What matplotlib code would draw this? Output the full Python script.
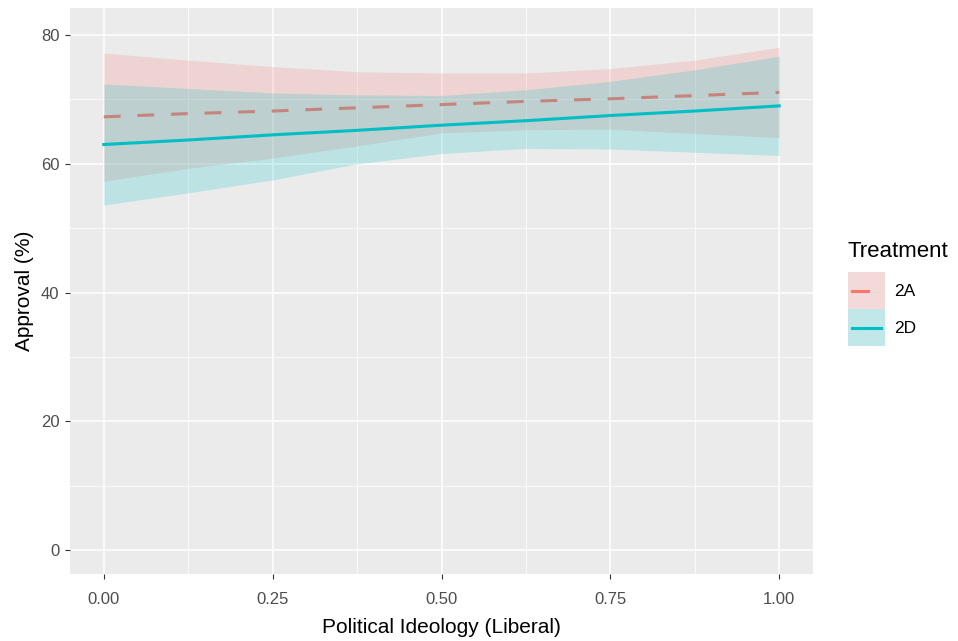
import numpy as np
import matplotlib
matplotlib.use('Agg')
import matplotlib.pyplot as plt
from matplotlib.patches import Rectangle
from matplotlib.lines import Line2D
from matplotlib.legend_handler import HandlerBase

plt.rcParams['font.family'] = ['Liberation Sans', 'DejaVu Sans']

# predicted approval by ideology, with confidence band
ideology = [0.0, 0.125, 0.25, 0.375, 0.5, 0.625, 0.75, 0.875, 1.0]
fit_2a = [67.3, 67.8, 68.2, 68.7, 69.2, 69.7, 70.1, 70.6, 71.1]
lo_2a = [57.3, 59.3, 60.9, 62.8, 64.8, 65.3, 65.4, 64.7, 64.1]
hi_2a = [77.2, 76.1, 75.1, 74.3, 74.1, 74.1, 74.8, 76.1, 78.1]
fit_2d = [63.0, 63.7, 64.5, 65.2, 66.0, 66.7, 67.5, 68.2, 69.0]
lo_2d = [53.6, 55.5, 57.5, 60.0, 61.6, 62.4, 62.3, 61.8, 61.3]
hi_2d = [72.4, 71.7, 71.0, 70.7, 70.6, 71.5, 72.8, 74.6, 76.7]

treatments = ['2A', '2D']
red = '#F8766D'
cyan = '#00BFC4'

W, H = 958, 641
fig = plt.figure(figsize=(W / 100, H / 100), dpi=100)
ax = fig.add_axes([70 / W, 67 / H, 743 / W, 566 / H])
ax.set_facecolor('#EBEBEB')

ax.fill_between(ideology, lo_2a, hi_2a, color=red, alpha=0.2, lw=0, zorder=2)
ax.plot(ideology, fit_2a, color=red, lw=2.2, dashes=(5.5, 5.5), zorder=3)
ax.fill_between(ideology, lo_2d, hi_2d, color=cyan, alpha=0.2, lw=0, zorder=4)
ax.plot(ideology, fit_2d, color=cyan, lw=2.2, zorder=5)

ax.set_xlim(-0.05, 1.05)
ax.set_ylim(-3.7, 84.2)
ax.set_xticks([0, 0.25, 0.5, 0.75, 1.0])
ax.set_xticklabels(['0.00', '0.25', '0.50', '0.75', '1.00'])
ax.set_yticks([0, 20, 40, 60, 80])
ax.set_xticks([0.125, 0.375, 0.625, 0.875], minor=True)
ax.set_yticks([10, 30, 50, 70], minor=True)
ax.grid(which='major', color='white', lw=1.1, zorder=1)
ax.grid(which='minor', color='white', lw=0.55, zorder=1)
ax.set_axisbelow(True)
for s in ax.spines.values():
    s.set_visible(False)
ax.tick_params(which='major', length=3.5, width=0.8, color='#333333',
               labelcolor='#4D4D4D', labelsize=12)
ax.tick_params(axis='x', which='major', pad=9.5)
ax.tick_params(axis='y', which='major', pad=4)
ax.tick_params(which='minor', length=0)

ax.set_xlabel('Political Ideology (Liberal)', fontsize=15, color='black', labelpad=8)
ax.set_ylabel('Approval (%)', fontsize=15, color='black', labelpad=5)


class KeyHandler(HandlerBase):
    def __init__(self, color, frac):
        super().__init__()
        self.color = color
        self.frac = frac

    def create_artists(self, legend, orig_handle, xdescent, ydescent,
                       width, height, fontsize, trans):
        bg = Rectangle((-xdescent, -ydescent), width, height,
                       facecolor='#F2F2F2', edgecolor='none', transform=trans)
        box = Rectangle((-xdescent, -ydescent), width, height,
                        facecolor=self.color, alpha=0.2, edgecolor='none', transform=trans)
        y = height / 2 - ydescent
        x0 = -xdescent + width * 0.1
        ln = Line2D([x0, x0 + width * self.frac], [y, y],
                    color=self.color, lw=2.2, transform=trans)
        return [bg, box, ln]


fig.text(848 / W, 1 - 252 / H, 'Treatment', fontsize=16, ha='left', va='center')

h1 = Line2D([], [])
h2 = Line2D([], [])
# key size is set in font units, so keep it in step with the label size
fs_leg = 12.5
leg = fig.legend([h1, h2], treatments,
                 handler_map={h1: KeyHandler(red, 0.45), h2: KeyHandler(cyan, 0.8)},
                 loc='upper left', bbox_to_anchor=(848 / W, 1 - 272 / H),
                 frameon=False, fontsize=fs_leg,
                 handlelength=2.4 * 11 / fs_leg, handleheight=3.3 * 11 / fs_leg,
                 handletextpad=0.55, labelspacing=0.0, borderpad=0, borderaxespad=0)

fig.savefig('out.png', dpi=100)
